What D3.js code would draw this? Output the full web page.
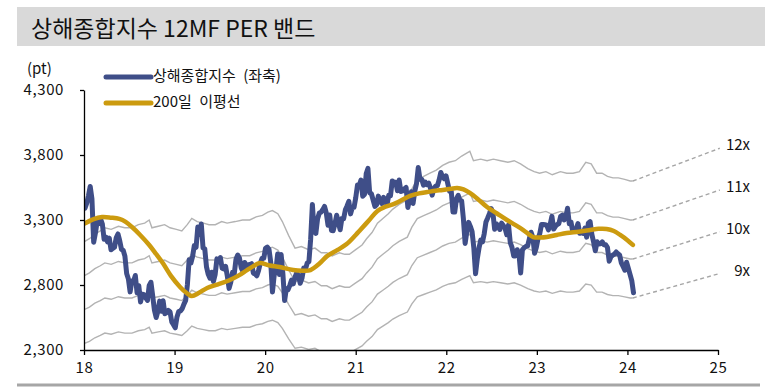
<!DOCTYPE html>
<html><head><meta charset="utf-8">
<script src="https://cdn.jsdelivr.net/npm/d3@7"></script>
<style>
body{margin:0;background:#fff}
svg{display:block}
text{font-family:"Noto Sans CJK KR","Noto Sans",sans-serif}
</style>
</head><body>
<svg id="c" width="781" height="387"></svg>
<script>
// ---------------- data ----------------
const titleText = "상해종합지수 12MF PER 밴드";
const unitText = "(pt)";
const seriesNames = ["상해종합지수 (좌축)", "200일 이평선"];
const xTickYears = [2018, 2019, 2020, 2021, 2022, 2023, 2024, 2025];
const yTicks = [2300, 2800, 3300, 3800, 4300];
const multiples = [9, 10, 11, 12];
const multipleLabels = ["9x", "10x", "11x", "12x"];

// weekly closes (Fridays) starting 2018-01-05
const indexStartDay = 4; // days after 2018-01-01
const shIndex = [
// 2018
3391,3429,3487,3558,3462,3129,3199,3289,3273,3307,3269,3152,3169,3131,3160,3071,3082,3091,3163,3193,3141,3075,3067,3022,2889,2847,
2747,2831,2829,2873,2740,2795,2669,2729,2725,2702,2682,2797,2821,2716,2606,2550,2598,2676,2598,2679,2579,2588,2605,2593,2516,2494,
// 2019
2470,2554,2596,2601,2618,2653,2682,2804,2994,2969,3021,3104,3090,3247,3189,3270,3086,3078,2939,2882,2852,2898,2827,2882,3001,2979,
3011,2930,2924,2944,2868,2774,2823,2897,2886,2999,3031,3006,2932,2905,2973,2938,2954,2958,2964,2891,2885,2871,2912,2968,3005,3005,
// 2020
3083,3092,3075,2977,2746,2876,2917,3039,2880,3034,2887,2680,2772,2764,2797,2838,2809,2860,2895,2868,2813,2852,2930,2920,2968,2980,
3152,3420,3214,3197,3310,3354,3360,3380,3404,3355,3260,3338,3219,3218,3272,3336,3278,3225,3312,3310,3378,3408,3444,3347,3395,3397,
// 2021
3473,3570,3566,3607,3483,3496,3655,3697,3509,3502,3454,3405,3418,3484,3451,3427,3474,3447,3418,3490,3487,3600,3592,3590,3525,3607,
3519,3524,3539,3550,3397,3458,3517,3427,3522,3581,3703,3613,3613,3568,3592,3572,3583,3547,3491,3539,3560,3564,3607,3666,3632,3618,3640,
// 2022
3580,3521,3522,3361,3361,3462,3490,3451,3447,3309,3120,3212,3282,3251,3211,3087,2886,3001,3084,3146,3131,3195,3285,3316,3349,3388,
3356,3228,3270,3253,3227,3276,3258,3236,3186,3262,3126,3089,3024,3024,3071,3038,2893,3070,3087,3097,3101,3156,3206,3167,3045,3089,
// 2023
3157,3195,3265,3265,3263,3260,3224,3267,3328,3230,3251,3265,3273,3327,3338,3301,3323,3390,3272,3283,3212,3230,3231,3273,3198,3202,
3197,3237,3168,3276,3288,3189,3131,3064,3133,3116,3117,3132,3110,3110,3088,2983,3017,3030,3038,3054,3041,3031,2970,2942,2914,2975,
// 2024
2929,2882,2833,2740
];

// 200-day moving average [year, value]
const maPoints = [
[2018.00,3270],[2018.10,3305],[2018.20,3323],[2018.30,3318],[2018.39,3308],[2018.46,3285],[2018.53,3246],[2018.62,3185],
[2018.72,3108],[2018.80,3035],[2018.87,2969],[2018.96,2870],[2019.06,2785],[2019.13,2740],[2019.19,2715],[2019.27,2740],
[2019.36,2777],[2019.48,2805],[2019.61,2838],[2019.70,2870],[2019.80,2915],[2019.87,2945],[2019.94,2969],[2020.05,2950],
[2020.16,2938],[2020.31,2915],[2020.42,2910],[2020.50,2915],[2020.60,2965],[2020.68,3020],[2020.80,3070],[2020.90,3115],
[2021.00,3185],[2021.05,3223],[2021.15,3300],[2021.24,3370],[2021.32,3400],[2021.41,3420],[2021.50,3450],[2021.60,3485],
[2021.70,3505],[2021.79,3515],[2021.88,3525],[2021.96,3531],[2022.05,3540],[2022.12,3546],[2022.19,3535],[2022.26,3508],
[2022.35,3460],[2022.45,3400],[2022.56,3350],[2022.67,3300],[2022.76,3262],[2022.85,3223],[2022.96,3169],[2023.04,3165],
[2023.11,3169],[2023.22,3185],[2023.33,3200],[2023.46,3210],[2023.59,3223],[2023.68,3232],[2023.77,3231],[2023.85,3215],
[2023.92,3185],[2024.00,3145],[2024.06,3108]
];

// 12M forward EPS implied by the PER bands [year, eps]
const epsPoints = [
[2018.00,261],[2018.06,263],[2018.12,266],[2018.18,268],[2018.23,270],[2018.30,269],[2018.38,271],[2018.45,270],
[2018.53,270],[2018.60,272],[2018.67,273],[2018.72,275],[2018.75,270],[2018.82,271],[2018.89,272],[2018.95,270],
[2019.02,269],[2019.08,268],[2019.14,272],[2019.19,276],[2019.25,274],[2019.32,273],[2019.38,272],[2019.45,272],
[2019.52,274],[2019.58,273],[2019.67,274],[2019.75,275],[2019.83,275],[2019.90,277],[2019.97,278],[2020.03,280],
[2020.08,281],[2020.14,279],[2020.19,274],[2020.26,265],[2020.33,257],[2020.40,258],[2020.48,256],[2020.55,257],
[2020.62,254],[2020.68,254],[2020.74,252],[2020.82,254],[2020.88,253],[2020.93,253],[2021.00,256],[2021.07,259],
[2021.12,263],[2021.18,267],[2021.24,273],[2021.30,276],[2021.36,279],[2021.41,282],[2021.48,285],[2021.57,288],
[2021.62,295],[2021.68,301],[2021.75,303],[2021.82,305],[2021.89,307],[2021.96,310],[2022.03,312],[2022.10,313],
[2022.17,316],[2022.23,318],[2022.26,319],[2022.30,313],[2022.38,314],[2022.45,313],[2022.52,314],[2022.60,313],
[2022.68,312],[2022.75,313],[2022.82,311],[2022.90,308],[2022.97,306],[2023.03,305],[2023.10,306],[2023.17,304],
[2023.26,306],[2023.33,305],[2023.40,305],[2023.47,306],[2023.54,312],[2023.60,311],[2023.66,305],[2023.72,305],
[2023.78,303],[2023.84,302],[2023.90,302],[2023.97,301],[2024.03,300],[2024.06,300]
];
const epsForecast = [[2024.06,300],[2025.02,321]];

// ---------------- drawing ----------------
const svg = d3.select("#c");
const M = {left:84, right:718, top:90, bottom:350};
const x = d3.scaleLinear().domain([2018, 2025]).range([M.left, M.right]);
const y = d3.scaleLinear().domain([2300, 4300]).range([M.bottom, M.top]);
const FONT = '"Noto Sans CJK KR","Noto Sans",sans-serif';

// title band
svg.append("rect").attr("x",17).attr("y",7).attr("width",748).attr("height",39).attr("fill","#d9d9d9");
svg.append("text").attr("x",31).attr("y",37).attr("font-size",23)
  .attr("fill","#111").text(titleText);
// bottom rule
svg.append("line").attr("x1",17).attr("x2",760).attr("y1",385).attr("y2",385).attr("stroke","#a6a6a6").attr("stroke-width",3);

// clip
svg.append("clipPath").attr("id","clip").append("rect")
  .attr("x",M.left).attr("y",M.top-40).attr("width",M.right-M.left).attr("height",M.bottom-M.top+40);

const g = svg.append("g").attr("clip-path","url(#clip)");
const line = d3.line().x(d=>x(d[0])).y(d=>y(d[1]));

// PER bands
multiples.forEach(m=>{
  g.append("path").datum(epsPoints.map(d=>[d[0], d[1]*m]))
    .attr("d", line).attr("fill","none").attr("stroke","#b3b3b3").attr("stroke-width",1.4);
});
// dashed projections + labels
multiples.forEach((m,i)=>{
  svg.append("path").datum(epsForecast.map(d=>[d[0], d[1]*m]))
    .attr("d", line).attr("fill","none").attr("stroke","#a6a6a6").attr("stroke-width",1.4)
    .attr("stroke-dasharray","4,3");
  svg.append("text").attr("x",750).attr("y", y(epsForecast[1][1]*m)-2)
    .attr("text-anchor","end").attr("dominant-baseline","middle")
    .attr("font-size",15).attr("fill","#111").text(multipleLabels[i]);
});

// index line
const idxData = shIndex.map((v,i)=>[2018 + (indexStartDay + 7*i)/365.25, v]);
g.append("path").datum(idxData).attr("d", line).attr("fill","none")
  .attr("stroke","#3f4e88").attr("stroke-width",5).attr("stroke-linejoin","round").attr("stroke-linecap","round");

// MA line
g.append("path").datum(maPoints).attr("d", d3.line().x(d=>x(d[0])).y(d=>y(d[1])).curve(d3.curveCatmullRom))
  .attr("fill","none").attr("stroke","#cc9b0f").attr("stroke-width",4.5).attr("stroke-linecap","round");

// axes
const yAxis = svg.append("g").attr("transform",`translate(${M.left},0)`)
  .call(d3.axisLeft(y).tickValues(yTicks).tickFormat(d3.format(",")).tickSize(4).tickSizeOuter(0).tickPadding(16));
const xAxis = svg.append("g").attr("transform",`translate(0,${M.bottom})`)
  .call(d3.axisBottom(x).tickValues(xTickYears).tickFormat(d=>String(d).slice(2)).tickSize(5).tickSizeOuter(0).tickPadding(7));
[yAxis,xAxis].forEach(a=>{
  a.selectAll("path,line").attr("stroke","#000").attr("stroke-width",1.3);
  a.selectAll("text").attr("font-size",15).attr("fill","#111")
    .style("font-family",FONT).style("letter-spacing","0.6px");
});

// unit
svg.append("text").attr("x",27).attr("y",70).attr("dominant-baseline","middle")
  .attr("font-size",15).attr("fill","#111").text(unitText);

// legend
const legendColors = ["#3f4e88","#cc9b0f"];
const legendY = [77, 103];
seriesNames.forEach((s,i)=>{
  svg.append("line").attr("x1",106).attr("x2",151).attr("y1",legendY[i]).attr("y2",legendY[i])
    .attr("stroke",legendColors[i]).attr("stroke-width",5).attr("stroke-linecap","round");
  svg.append("text").attr("x",153).attr("y",legendY[i]).attr("dominant-baseline","middle")
    .attr("font-size",15).attr("word-spacing","4px").attr("fill","#111").text(s);
});
</script>
</body></html>
